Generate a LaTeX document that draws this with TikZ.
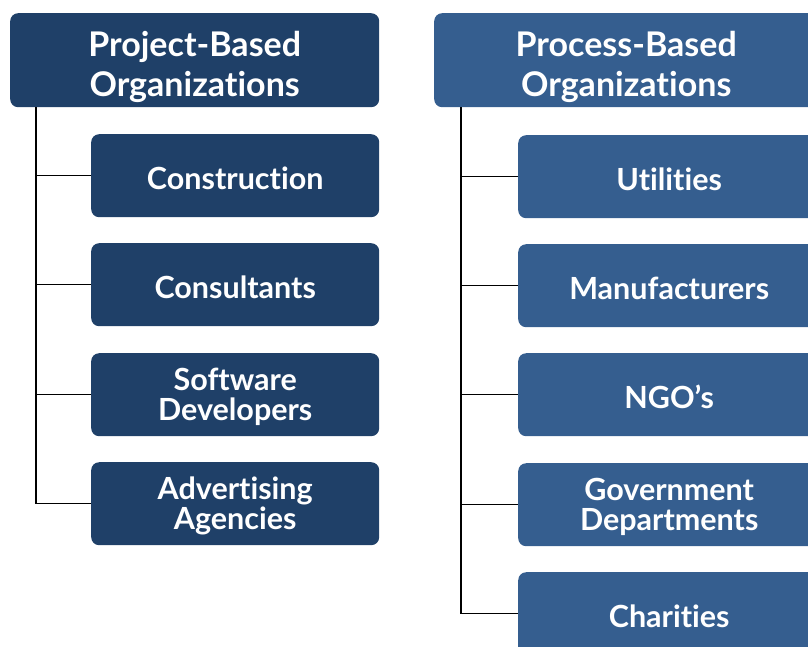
\documentclass[tikz,border=0pt]{standalone}
\usepackage{fontspec}
\setmainfont{Lato}[UprightFont=* Bold, Ligatures=NoCommon]
\definecolor{projblue}{RGB}{31,64,104}
\definecolor{procblue}{RGB}{53,94,143}
\begin{document}
\begin{tikzpicture}[x=1pt,y=-1pt,
  box/.style={rectangle, rounded corners=8pt, anchor=north west, inner sep=0pt},
  lbox/.style={box, fill=projblue, minimum width=288pt, minimum height=83pt},
  rbox/.style={box, fill=procblue, minimum width=302pt, minimum height=83pt},
  txt/.style={inner sep=0pt, text=white, align=center, font=\fontsize{30.5}{30}\selectfont, yshift=-2.5pt},
  htxt/.style={txt, font=\fontsize{34}{40}\selectfont, yshift=-4.5pt},
  link/.style={draw=black, line width=1.2pt}]
\useasboundingbox (0,0) rectangle (808,646);
\clip (0,0) rectangle (808,646);
% left column
\node[box, fill=projblue, minimum width=369pt, minimum height=94pt] (lh) at (10,13) {};
\node[htxt] (lht) at (lh.center) {Project-Based\\Organizations};
\node[lbox] (l1) at (91,134) {};
\node[txt] (l1t) at (l1.center) {Construction};
\node[lbox] (l2) at (91,243) {};
\node[txt] (l2t) at (l2.center) {Consultants};
\node[lbox] (l3) at (91,353) {};
\node[txt] (l3t) at (l3.center) {Software\\Developers};
\node[lbox] (l4) at (91,462) {};
\node[txt] (l4t) at (l4.center) {Advertising\\Agencies};
\coordinate (lt) at (36,107);
\foreach \n in {l1,l2,l3,l4} \draw[link] (lt) |- (\n.west);
% right column
\node[box, fill=procblue, minimum width=384pt, minimum height=94pt] (rh) at (434,13) {};
\node[htxt] (rht) at (rh.center) {Process-Based\\Organizations};
\node[rbox] (r1) at (518,135) {};
\node[txt] (r1t) at (r1.center) {Utilities};
\node[rbox] (r2) at (518,244) {};
\node[txt] (r2t) at (r2.center) {Manufacturers};
\node[rbox] (r3) at (518,353) {};
\node[txt] (r3t) at (r3.center) {NGO’s};
\node[rbox] (r4) at (518,463) {};
\node[txt] (r4t) at (r4.center) {Government\\Departments};
\node[rbox] (r5) at (518,572) {};
\node[txt] (r5t) at (r5.center) {Charities};
\coordinate (rt) at (461,107);
\foreach \n in {r1,r2,r3,r4,r5} \draw[link] (rt) |- (\n.west);
\end{tikzpicture}
\end{document}
